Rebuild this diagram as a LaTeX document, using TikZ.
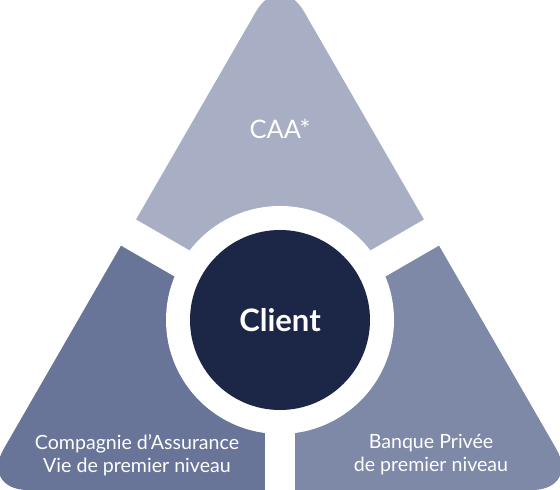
\documentclass[tikz,border=0pt]{standalone}
\usepackage{fontspec}
\setmainfont{Lato}
\usetikzlibrary{calc}

\definecolor{caagrey}{HTML}{A8AEC3}
\definecolor{assgrey}{HTML}{687598}
\definecolor{bankgrey}{HTML}{7E88A7}
\definecolor{clientblue}{HTML}{1C2647}

\tikzset{
  pyramid/.style={rounded corners=48},
  sectortext/.style={text=white, align=center, font=\fontsize{19.6}{23}\selectfont},
  gap/.style={line width=30, white}
}

\begin{document}
\begin{tikzpicture}[x=1pt, y=1pt]
        \useasboundingbox (0,0) rectangle (560,490);
        \coordinate (c) at (280,170);
        \coordinate (apex) at (280,520);
        \coordinate (bl) at (-20,0);
        \coordinate (br) at (580,0);
        \coordinate (up) at ($(c)+(90:700)$);
        \coordinate (ul) at ($(c)+(150:700)$);
        \coordinate (ur) at ($(c)+(30:700)$);
        \coordinate (dl) at ($(c)+(210:700)$);
        \coordinate (dr) at ($(c)+(330:700)$);
        \coordinate (down) at ($(c)+(270:700)$);

        % three parts of the triangle
        \begin{scope}
          \clip (c) -- (ul) -- (up) -- (ur) -- cycle;
          \fill[caagrey, pyramid] (apex) -- (br) -- (bl) -- cycle;
        \end{scope}
        \begin{scope}
          \clip (c) -- (ul) -- (dl) -- (down) -- cycle;
          \fill[assgrey, pyramid] (apex) -- (br) -- (bl) -- cycle;
        \end{scope}
        \begin{scope}
          \clip (c) -- (down) -- (dr) -- (ur) -- cycle;
          \fill[bankgrey, pyramid] (apex) -- (br) -- (bl) -- cycle;
        \end{scope}

        % white gaps and ring
        \draw[gap] (c) -- (ul);
        \draw[gap] (c) -- (ur);
        \draw[gap] (c) -- (down);
        \fill[white] (c) circle (114);
        \fill[clientblue] (c) circle (90);

        \node[text=white, font=\fontsize{25.5}{30}\selectfont] (caa) at (280,361) {CAA*};
        \node[text=white, font=\bfseries\fontsize{31}{36}\selectfont] (client) at (c) {Client};
        \node[sectortext] (assurance) at (137,35) {Compagnie d’Assurance\\Vie de premier niveau};
        \node[sectortext] (banque) at (431,35) {Banque Privée\\de premier niveau};
      \end{tikzpicture}
\end{document}
